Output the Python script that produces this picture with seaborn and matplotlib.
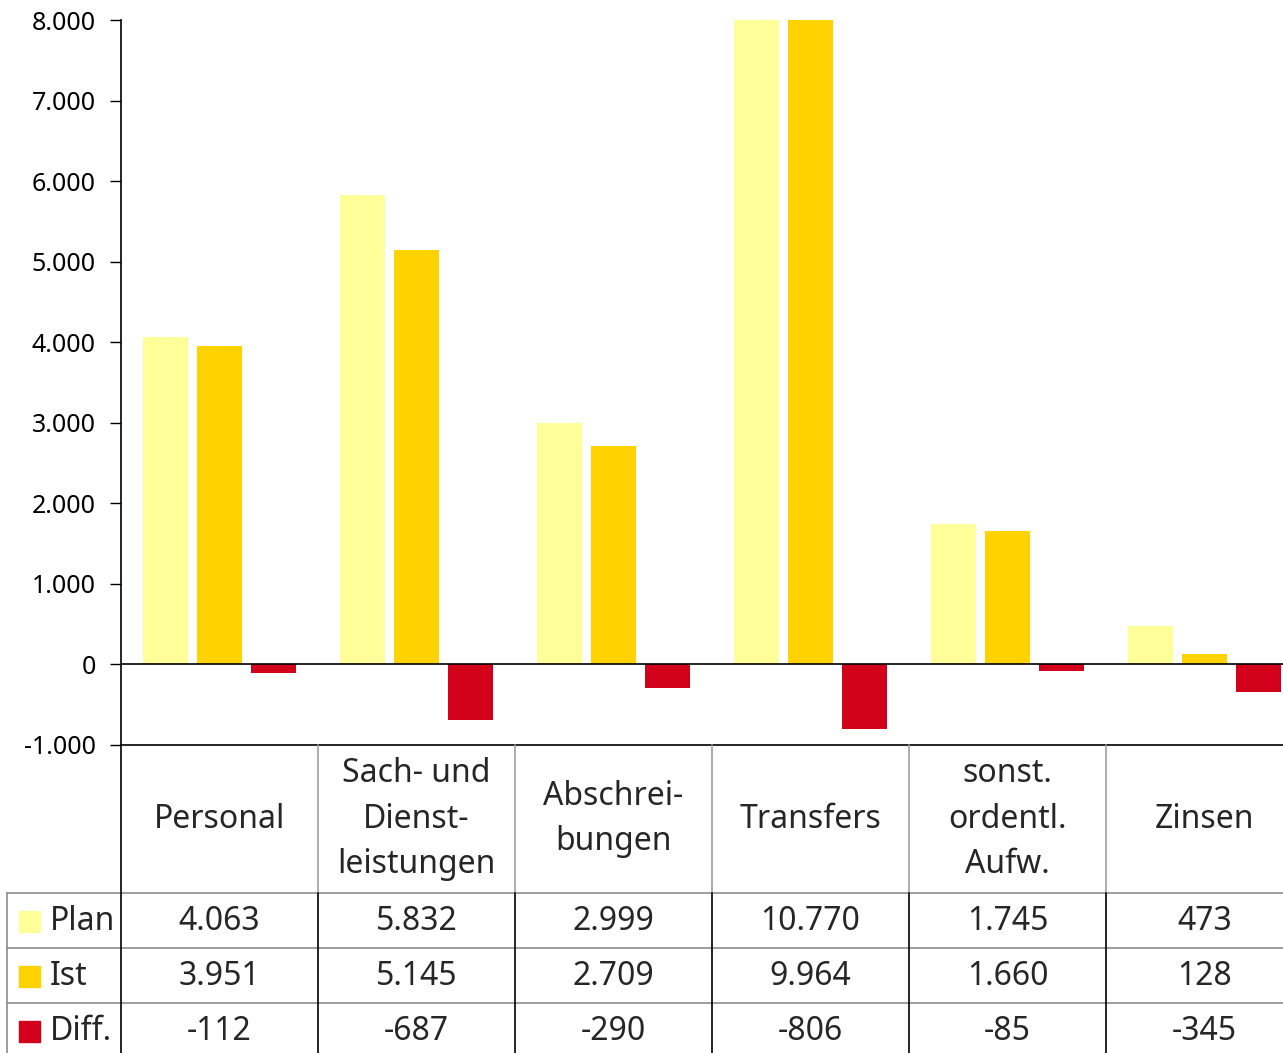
import pandas as pd
import matplotlib
matplotlib.use("Agg")
import matplotlib.pyplot as plt
import matplotlib.transforms as mtransforms
from matplotlib.lines import Line2D
from matplotlib.patches import Rectangle
from matplotlib.ticker import FuncFormatter
import seaborn as sns

# Data (Tsd. EUR)
categories = ["Personal", "Sach- und\nDienst-\nleistungen", "Abschrei-\nbungen",
              "Transfers", "sonst.\nordentl.\nAufw.", "Zinsen"]
series = ["Plan", "Ist", "Diff."]
plan = [4063, 5832, 2999, 10770, 1745, 473]
ist = [3951, 5145, 2709, 9964, 1660, 128]
diff = [-112, -687, -290, -806, -85, -345]
colors = ["#FFFF99", "#FFD200", "#D2001A"]

rows = []
for s, vals in zip(series, [plan, ist, diff]):
    for c, v in zip(categories, vals):
        rows.append({"Kategorie": c, "Reihe": s, "Wert": v})
df = pd.DataFrame(rows)

sns.set_theme(style="ticks")
plt.rcParams["font.family"] = ["Noto Sans", "DejaVu Sans"]

W, H = 1283, 1053
fig = plt.figure(figsize=(W / 100, H / 100), dpi=100)
ax = fig.add_axes([121 / W, 1 - 745 / H, 1182 / W, 725 / H])

sns.barplot(data=df, x="Kategorie", y="Wert", hue="Reihe", order=categories,
            hue_order=series, palette=colors, width=0.822, gap=0.17,
            linewidth=0, saturation=1, legend=False, ax=ax)

ax.set_ylim(-1000, 8000)
ax.set_xlim(-0.5, 5.5)
ax.set_yticks(range(-1000, 8001, 1000))
ax.yaxis.set_major_formatter(FuncFormatter(lambda v, p: f"{int(v):,}".replace(",", ".")))
ax.tick_params(axis="y", labelsize=18, length=8, width=1, pad=10, color="black", labelcolor="black")
ax.set_xticks([])
ax.set_xlabel("")
ax.set_ylabel("")
ax.axhline(0, color="black", lw=1.2)
sns.despine(ax=ax, top=True, right=True)
for sp in ["left", "bottom"]:
    ax.spines[sp].set_color("black")
    ax.spines[sp].set_linewidth(1.2)

# Data table below the chart
tr = mtransforms.blended_transform_factory(ax.transData, fig.transFigure)
fy = lambda py: 1 - py / H
fx = lambda px: px / W

row_y = [893, 948, 1003, 1058]
fs = 23

# category labels
for i, c in enumerate(categories):
    ax.text(i, fy(819), c, transform=tr, ha="center", va="center",
            fontsize=fs, linespacing=1.5, clip_on=False)

# values
for r, (s, vals) in enumerate(zip(series, [plan, ist, diff])):
    yc = fy((row_y[r] + row_y[r + 1]) / 2 + 1)
    for i, v in enumerate(vals):
        ax.text(i, yc, f"{v:,}".replace(",", "."), transform=tr, ha="center",
                va="center", fontsize=fs, clip_on=False)
    fig.patches.append(Rectangle((fx(19), yc - 10.5 / H), 21 / W, 21 / H,
                                 transform=fig.transFigure, color=colors[r]))
    fig.text(fx(50), yc, s, ha="left", va="center", fontsize=fs)

# grid lines of the table
for y in row_y[:3]:
    fig.add_artist(Line2D([fx(7), 1], [fy(y), fy(y)], color="#8c8c8c", lw=1.2))
fig.add_artist(Line2D([fx(7), fx(7)], [fy(893), 0], color="#8c8c8c", lw=1.2))
fig.add_artist(Line2D([fx(121), fx(121)], [fy(745), 0], color="black", lw=1.2))
for i in range(len(categories) - 1):
    x = i + 0.5
    fig.add_artist(Line2D([x, x], [fy(745), fy(893)], transform=tr, color="#a0a0a0", lw=1.2))
    fig.add_artist(Line2D([x, x], [fy(893), 0], transform=tr, color="black", lw=1.2))

fig.savefig("out.png", dpi=100)
